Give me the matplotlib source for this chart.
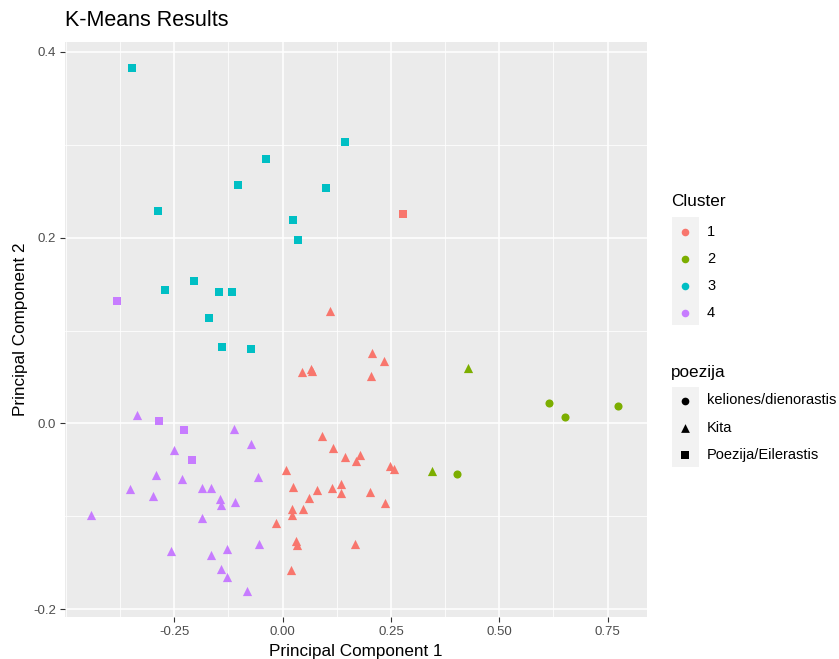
''' K-Means results on the first two principal components '''

import matplotlib.pyplot as plt
from matplotlib.patches import Rectangle
from matplotlib.ticker import MultipleLocator

plt.rcParams['font.family'] = ['Liberation Sans', 'DejaVu Sans']

# cluster colours / shapes (ggplot defaults)
cluster_names = ['1', '2', '3', '4']
cluster_colors = ['#F8766D', '#7CAE00', '#00BFC4', '#C77CFF']
poezija_names = ['keliones/dienorastis', 'Kita', 'Poezija/Eilerastis']
poezija_markers = ['o', '^', 's']

# points per (cluster, poezija)
c1_kita_x = [0.110, 0.045, 0.065, 0.068, 0.207, 0.234, 0.204, 0.091, 0.116,
             0.144, 0.178, 0.169, 0.248, 0.257, 0.008, 0.024, 0.080, 0.114,
             0.135, 0.135, 0.202, 0.062, 0.237, 0.021, 0.047, 0.021, -0.016,
             0.032, 0.034, 0.168, 0.020]
c1_kita_y = [0.121, 0.055, 0.059, 0.056, 0.076, 0.067, 0.051, -0.014, -0.027,
             -0.036, -0.034, -0.041, -0.046, -0.049, -0.050, -0.068, -0.072,
             -0.070, -0.065, -0.075, -0.074, -0.080, -0.086, -0.092, -0.092,
             -0.099, -0.107, -0.127, -0.131, -0.130, -0.158]
c1_poez_x = [0.277]
c1_poez_y = [0.226]

c2_kel_x = [0.616, 0.651, 0.775, 0.402]
c2_kel_y = [0.022, 0.007, 0.019, -0.055]
c2_kita_x = [0.429, 0.345]
c2_kita_y = [0.060, -0.051]

c3_poez_x = [-0.348, 0.145, -0.038, -0.103, 0.101, -0.287, 0.024, 0.035,
             -0.204, -0.272, -0.146, -0.116, -0.170, -0.140, -0.073]
c3_poez_y = [0.383, 0.303, 0.285, 0.257, 0.253, 0.229, 0.219, 0.198,
             0.153, 0.144, 0.141, 0.142, 0.113, 0.082, 0.080]

c4_kita_x = [-0.335, -0.112, -0.072, -0.251, -0.293, -0.233, -0.056, -0.352,
             -0.185, -0.165, -0.299, -0.144, -0.142, -0.109, -0.441, -0.187,
             -0.258, -0.165, -0.128, -0.055, -0.141, -0.128, -0.082]
c4_kita_y = [0.009, -0.006, -0.022, -0.029, -0.056, -0.060, -0.058, -0.071,
             -0.070, -0.070, -0.078, -0.081, -0.088, -0.085, -0.099, -0.102,
             -0.137, -0.142, -0.135, -0.130, -0.157, -0.165, -0.180]
c4_poez_x = [-0.383, -0.285, -0.228, -0.209]
c4_poez_y = [0.132, 0.003, -0.007, -0.039]

groups = [
    (c1_kita_x, c1_kita_y, 0, 1),
    (c1_poez_x, c1_poez_y, 0, 2),
    (c2_kel_x, c2_kel_y, 1, 0),
    (c2_kita_x, c2_kita_y, 1, 1),
    (c3_poez_x, c3_poez_y, 2, 2),
    (c4_kita_x, c4_kita_y, 3, 1),
    (c4_poez_x, c4_poez_y, 3, 2),
]
marker_size = {'o': 34, '^': 44, 's': 34}

fig = plt.figure(figsize=(8.39, 6.59), dpi=100)
ax = fig.add_axes([65 / 839, 1 - 617 / 659, (647 - 65) / 839, (617 - 41.7) / 659])
ax.set_facecolor('#EBEBEB')
for s in ax.spines.values():
    s.set_visible(False)

for xs, ys, ci, pi in groups:
    m = poezija_markers[pi]
    ax.scatter(xs, ys, c=cluster_colors[ci], marker=m, s=marker_size[m],
               linewidths=0, zorder=3)

ax.set_xlim(-0.502, 0.841)
ax.set_ylim(-0.2085, 0.411)
ax.xaxis.set_minor_locator(MultipleLocator(0.125))
ax.yaxis.set_minor_locator(MultipleLocator(0.1))
ax.set_xticks([-0.25, 0.0, 0.25, 0.5, 0.75])
ax.set_xticklabels(['-0.25', '0.00', '0.25', '0.50', '0.75'])
ax.set_yticks([-0.2, 0.0, 0.2, 0.4])
ax.set_yticklabels(['-0.2', '0.0', '0.2', '0.4'])
ax.grid(True, which='major', color='white', linewidth=1.1)
ax.grid(True, which='minor', color='white', linewidth=0.55)
ax.set_axisbelow(True)
ax.tick_params(which='major', length=3.5, width=0.8, color='#333333',
               labelcolor='#4D4D4D', labelsize=9.5, pad=3)
ax.tick_params(which='minor', length=0)

ax.set_xlabel('Principal Component 1', fontsize=12.3, labelpad=4)
ax.set_ylabel('Principal Component 2', fontsize=12.3, labelpad=4)
fig.text(65 / 839, 1 - 21 / 659, 'K-Means Results', fontsize=15.5,
         ha='left', va='center')

# legends drawn in pixel space
lg = fig.add_axes([0, 0, 1, 1], zorder=5)
lg.set_xlim(0, 839)
lg.set_ylim(659, 0)
lg.axis('off')

lg.text(671, 201, 'Cluster', fontsize=12.3, va='center', ha='left')
lg.add_patch(Rectangle((671.5, 217), 27, 108, color='#F2F2F2', lw=0))
for i, (name, col) in enumerate(zip(cluster_names, cluster_colors)):
    yy = 232 + 27 * i
    lg.scatter([685], [yy], c=col, marker='o', s=30, linewidths=0)
    lg.text(707, yy, name, fontsize=10.5, va='center', ha='left')

lg.text(671, 372, 'poezija', fontsize=12.3, va='center', ha='left')
lg.add_patch(Rectangle((671.5, 387), 27, 80, color='#F2F2F2', lw=0))
for i, (name, m) in enumerate(zip(poezija_names, poezija_markers)):
    yy = 400.5 + 27 * i
    lg.scatter([685], [yy], c='black', marker=m, s=marker_size[m] * 0.9,
               linewidths=0)
    lg.text(707, yy, name, fontsize=10.5, va='center', ha='left')

fig.savefig('out.png', dpi=100)
